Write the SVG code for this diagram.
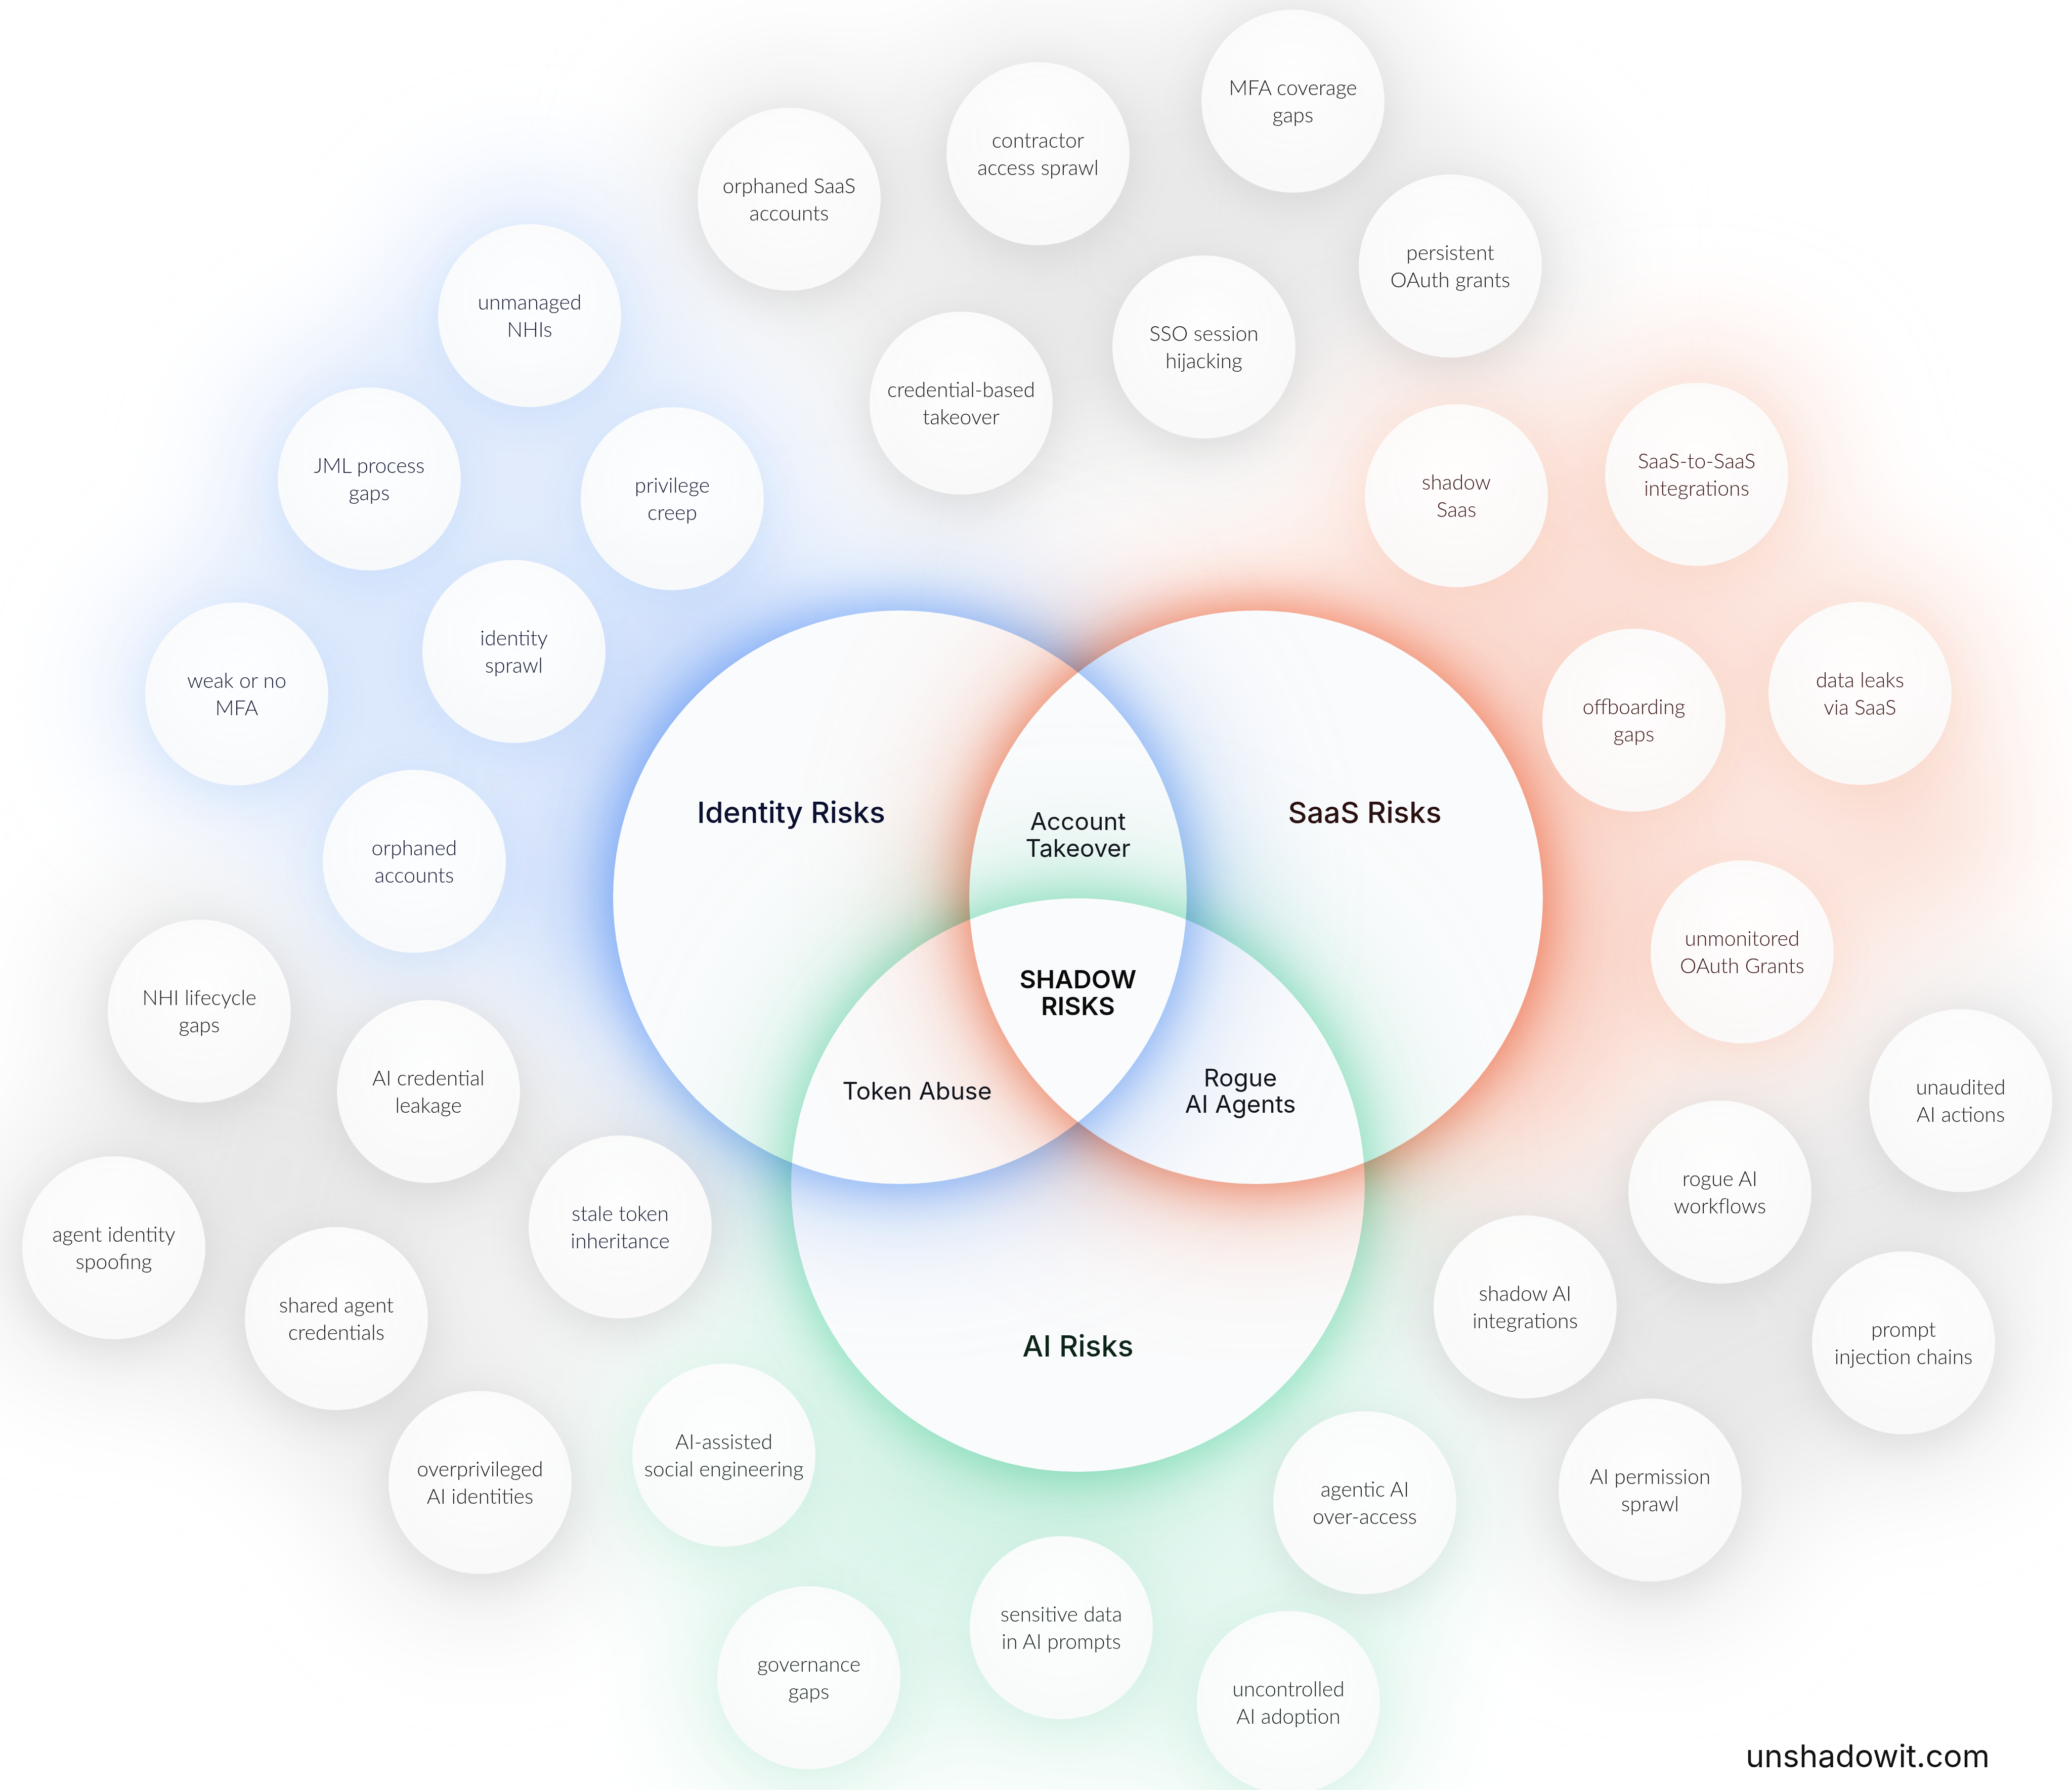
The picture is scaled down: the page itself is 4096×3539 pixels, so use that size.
<svg xmlns="http://www.w3.org/2000/svg" width="4096" height="3539" viewBox="0 0 4096 3539">
  <defs>
    <style>
      .lbl { font-family: Lato, Inter, "Noto Sans", "Liberation Sans", sans-serif; font-size: 41px; font-weight: 300; text-anchor: middle; }
      .c-gray { fill: #1a1a1a; }
      .c-id { fill: #141a32; }
      .c-saas { fill: #381515; }
      .c-ai { fill: #172220; }
      .bub { fill: url(#bubFill); }
      .title { font-family: Inter, "Noto Sans", "Liberation Sans", sans-serif; font-size: 58px; font-weight: 500; text-anchor: middle; }
      .inter { font-family: Inter, "Noto Sans", "Liberation Sans", sans-serif; font-size: 48px; font-weight: 400; text-anchor: middle; fill: #11141c; }
      .core { font-family: Inter, "Noto Sans", "Liberation Sans", sans-serif; font-size: 50px; font-weight: 600; text-anchor: middle; fill: #0a0a0a; }
      .url { font-family: Inter, "Noto Sans", "Liberation Sans", sans-serif; font-size: 62px; font-weight: 400; fill: #121212; }
      .glow { mix-blend-mode: multiply; }
    </style>
    <radialGradient id="bubFill" cx="50%" cy="40%" r="60%">
      <stop offset="0" stop-color="#ffffff" stop-opacity="0.96"/>
      <stop offset="1" stop-color="#fafafa" stop-opacity="0.93"/>
    </radialGradient>
    <filter id="blurTight" filterUnits="userSpaceOnUse" x="0" y="0" width="4096" height="3539">
      <feGaussianBlur stdDeviation="55"/>
    </filter>
    <filter id="blurWide" filterUnits="userSpaceOnUse" x="0" y="0" width="4096" height="3539">
      <feGaussianBlur stdDeviation="150"/>
    </filter>
    <filter id="blurHaze" filterUnits="userSpaceOnUse" x="0" y="0" width="4096" height="3539">
      <feGaussianBlur stdDeviation="120"/>
    </filter>
    <filter id="blurShadow" filterUnits="userSpaceOnUse" x="0" y="0" width="4096" height="3539">
      <feGaussianBlur stdDeviation="40"/>
    </filter>
    <!-- each glow is kept outside its own circle -->
    <mask id="outIdentity" maskUnits="userSpaceOnUse" x="0" y="0" width="4096" height="3539">
      <rect width="4096" height="3539" fill="#fff"/>
      <circle cx="1779" cy="1774" r="567" fill="#000"/>
    </mask>
    <mask id="outSaas" maskUnits="userSpaceOnUse" x="0" y="0" width="4096" height="3539">
      <rect width="4096" height="3539" fill="#fff"/>
      <circle cx="2483" cy="1774" r="567" fill="#000"/>
    </mask>
    <mask id="outAi" maskUnits="userSpaceOnUse" x="0" y="0" width="4096" height="3539">
      <rect width="4096" height="3539" fill="#fff"/>
      <circle cx="2131" cy="2343" r="567" fill="#000"/>
    </mask>
  </defs>

  <rect width="4096" height="3539" fill="#ffffff"/>

  <!-- soft background haze behind the bubble clusters -->
  <g id="haze">
    <g filter="url(#blurHaze)" fill="#e8e8e8">
      <circle cx="1560" cy="394" r="250"/>
      <circle cx="2052" cy="304" r="250"/>
      <circle cx="2556" cy="200" r="250"/>
      <circle cx="2867" cy="526" r="250"/>
      <circle cx="2380" cy="686" r="250"/>
      <circle cx="1900" cy="797" r="240"/>
      <circle cx="2200" cy="520" r="260"/>
      <circle cx="394" cy="1999" r="250"/>
      <circle cx="847" cy="2158" r="250"/>
      <circle cx="225" cy="2467" r="250"/>
      <circle cx="665" cy="2607" r="260"/>
      <circle cx="949" cy="2931" r="250"/>
      <circle cx="1226" cy="2426" r="230"/>
      <circle cx="600" cy="2300" r="250"/>
      <circle cx="3876" cy="2176" r="250"/>
      <circle cx="3400" cy="2357" r="250"/>
      <circle cx="3015" cy="2584" r="250"/>
      <circle cx="3763" cy="2655" r="250"/>
      <circle cx="3262" cy="2946" r="250"/>
      <circle cx="3500" cy="2650" r="250"/>
    </g>
    <g filter="url(#blurHaze)" fill="#dce8fc">
      <circle cx="1047" cy="624" r="250"/>
      <circle cx="730" cy="947" r="260"/>
      <circle cx="1329" cy="986" r="260"/>
      <circle cx="1016" cy="1288" r="260"/>
      <circle cx="468" cy="1372" r="240"/>
      <circle cx="819" cy="1703" r="240"/>
      <circle cx="1330" cy="1380" r="250"/>
      <circle cx="1200" cy="1800" r="200"/>
      <circle cx="700" cy="1300" r="220"/>
    </g>
    <g filter="url(#blurHaze)" fill="#fbdfd5">
      <circle cx="2879" cy="980" r="240"/>
      <circle cx="3354" cy="938" r="250"/>
      <circle cx="3230" cy="1424" r="260"/>
      <circle cx="3677" cy="1371" r="250"/>
      <circle cx="3444" cy="1882" r="240"/>
      <circle cx="3100" cy="1250" r="250"/>
      <circle cx="3150" cy="1900" r="220"/>
      <circle cx="3050" cy="2150" r="170"/>
      <circle cx="3800" cy="1650" r="180"/>
    </g>
    <g filter="url(#blurHaze)" fill="#def5ec">
      <circle cx="1431" cy="2877" r="230"/>
      <circle cx="1599" cy="3317" r="240"/>
      <circle cx="2098" cy="3218" r="260"/>
      <circle cx="2547" cy="3366" r="240"/>
      <circle cx="2698" cy="2971" r="220"/>
      <circle cx="2131" cy="2990" r="260"/>
      <circle cx="1820" cy="3020" r="220"/>
    </g>
  </g>

  <!-- bubble drop shadows -->
  <g id="bubble-shadows" filter="url(#blurShadow)">
    <g fill="#000" opacity="0.07">
      <circle cx="1560" cy="414" r="185"/>
      <circle cx="2052" cy="324" r="185"/>
      <circle cx="2556" cy="220" r="185"/>
      <circle cx="2867" cy="546" r="185"/>
      <circle cx="2380" cy="706" r="185"/>
      <circle cx="1900" cy="817" r="185"/>
      <circle cx="394" cy="2019" r="185"/>
      <circle cx="847" cy="2178" r="185"/>
      <circle cx="225" cy="2487" r="185"/>
      <circle cx="665" cy="2627" r="185"/>
      <circle cx="949" cy="2951" r="185"/>
      <circle cx="1226" cy="2446" r="185"/>
      <circle cx="3876" cy="2196" r="185"/>
      <circle cx="3400" cy="2377" r="185"/>
      <circle cx="3015" cy="2604" r="185"/>
      <circle cx="3763" cy="2675" r="185"/>
      <circle cx="3262" cy="2966" r="185"/>
      <circle cx="2698" cy="2991" r="185"/>
    </g>
    <g fill="#2f6fe0" opacity="0.07">
      <circle cx="1047" cy="644" r="185"/>
      <circle cx="730" cy="967" r="185"/>
      <circle cx="1329" cy="1006" r="185"/>
      <circle cx="1016" cy="1308" r="185"/>
      <circle cx="468" cy="1392" r="185"/>
      <circle cx="819" cy="1723" r="185"/>
    </g>
    <g fill="#e0603a" opacity="0.06">
      <circle cx="2879" cy="1000" r="185"/>
      <circle cx="3354" cy="958" r="185"/>
      <circle cx="3230" cy="1444" r="185"/>
      <circle cx="3677" cy="1391" r="185"/>
      <circle cx="3444" cy="1902" r="185"/>
    </g>
    <g fill="#1f9e6e" opacity="0.06">
      <circle cx="1431" cy="2897" r="185"/>
      <circle cx="1599" cy="3337" r="185"/>
      <circle cx="2098" cy="3238" r="185"/>
      <circle cx="2547" cy="3386" r="185"/>
    </g>
  </g>

  <!-- the three Venn sets -->
  <g id="venn-identity"><circle cx="1779" cy="1774" r="567" fill="#fafbfc"/></g>
  <g id="venn-saas"><circle cx="2483" cy="1774" r="567" fill="#fafbfc"/></g>
  <g id="venn-ai"><circle cx="2131" cy="2343" r="567" fill="#fafbfc"/></g>

  <!-- coloured halos, multiplied over each other and over the neighbouring sets -->
  <g id="venn-glows">
    <g class="glow" mask="url(#outIdentity)">
      <circle cx="1779" cy="1774" r="567" fill="#a8c7f8" filter="url(#blurWide)"/>
      <circle cx="1779" cy="1774" r="567" fill="#7aabf7" filter="url(#blurTight)"/>
    </g>
    <g class="glow" mask="url(#outSaas)">
      <circle cx="2483" cy="1774" r="567" fill="#f6ad95" filter="url(#blurWide)"/>
      <circle cx="2483" cy="1774" r="567" fill="#f07b58" filter="url(#blurTight)"/>
    </g>
    <g class="glow" mask="url(#outAi)">
      <circle cx="2131" cy="2343" r="567" fill="#ade9d2" filter="url(#blurWide)"/>
      <circle cx="2131" cy="2343" r="567" fill="#82dfba" filter="url(#blurTight)"/>
    </g>
  </g>

  <!-- Venn labels -->
  <g id="venn-labels">
    <text class="title" x="1564" y="1627" fill="#0b1030">Identity Risks</text>
    <text class="title" x="2698" y="1627" fill="#2a1010">SaaS Risks</text>
    <text class="title" x="2131" y="2682" fill="#0c2418">AI Risks</text>
    <text class="inter"><tspan x="2131" y="1641">Account</tspan><tspan x="2131" y="1694">Takeover</tspan></text>
    <text class="inter" x="1813" y="2174">Token Abuse</text>
    <text class="inter" fill="#0d1230"><tspan x="2452" y="2148">Rogue</tspan><tspan x="2452" y="2200">AI Agents</tspan></text>
    <text class="core"><tspan x="2131" y="1954">SHADOW</tspan><tspan x="2131" y="2007">RISKS</tspan></text>
  </g>

  <!-- risk bubbles -->
  <g id="bubbles">
    <g id="orphaned-saas-accounts" transform="translate(1560,394)"><circle r="181" class="bub"/><text class="lbl c-gray"><tspan x="0" y="-12">orphaned SaaS</tspan><tspan x="0" y="42">accounts</tspan></text></g>
    <g id="contractor-access-sprawl" transform="translate(2052,304)"><circle r="181" class="bub"/><text class="lbl c-gray"><tspan x="0" y="-12">contractor</tspan><tspan x="0" y="42">access sprawl</tspan></text></g>
    <g id="mfa-coverage-gaps" transform="translate(2556,200)"><circle r="181" class="bub"/><text class="lbl c-gray"><tspan x="0" y="-12">MFA coverage</tspan><tspan x="0" y="42">gaps</tspan></text></g>
    <g id="persistent-oauth-grants" transform="translate(2867,526)"><circle r="181" class="bub"/><text class="lbl c-gray"><tspan x="0" y="-12">persistent</tspan><tspan x="0" y="42">OAuth grants</tspan></text></g>
    <g id="sso-session-hijacking" transform="translate(2380,686)"><circle r="181" class="bub"/><text class="lbl c-gray"><tspan x="0" y="-12">SSO session</tspan><tspan x="0" y="42">hijacking</tspan></text></g>
    <g id="credential-based-takeover" transform="translate(1900,797)"><circle r="181" class="bub"/><text class="lbl c-gray"><tspan x="0" y="-12">credential-based</tspan><tspan x="0" y="42">takeover</tspan></text></g>

    <g id="unmanaged-nhis" transform="translate(1047,624)"><circle r="181" class="bub"/><text class="lbl c-id"><tspan x="0" y="-12">unmanaged</tspan><tspan x="0" y="42">NHIs</tspan></text></g>
    <g id="jml-process-gaps" transform="translate(730,947)"><circle r="181" class="bub"/><text class="lbl c-id"><tspan x="0" y="-12">JML process</tspan><tspan x="0" y="42">gaps</tspan></text></g>
    <g id="privilege-creep" transform="translate(1329,986)"><circle r="181" class="bub"/><text class="lbl c-id"><tspan x="0" y="-12">privilege</tspan><tspan x="0" y="42">creep</tspan></text></g>
    <g id="identity-sprawl" transform="translate(1016,1288)"><circle r="181" class="bub"/><text class="lbl c-id"><tspan x="0" y="-12">identity</tspan><tspan x="0" y="42">sprawl</tspan></text></g>
    <g id="weak-or-no-mfa" transform="translate(468,1372)"><circle r="181" class="bub"/><text class="lbl c-id"><tspan x="0" y="-12">weak or no</tspan><tspan x="0" y="42">MFA</tspan></text></g>
    <g id="orphaned-accounts" transform="translate(819,1703)"><circle r="181" class="bub"/><text class="lbl c-id"><tspan x="0" y="-12">orphaned</tspan><tspan x="0" y="42">accounts</tspan></text></g>

    <g id="shadow-saas" transform="translate(2879,980)"><circle r="181" class="bub"/><text class="lbl c-saas"><tspan x="0" y="-12">shadow</tspan><tspan x="0" y="42">Saas</tspan></text></g>
    <g id="saas-to-saas-integrations" transform="translate(3354,938)"><circle r="181" class="bub"/><text class="lbl c-saas"><tspan x="0" y="-12">SaaS-to-SaaS</tspan><tspan x="0" y="42">integrations</tspan></text></g>
    <g id="offboarding-gaps" transform="translate(3230,1424)"><circle r="181" class="bub"/><text class="lbl c-saas"><tspan x="0" y="-12">offboarding</tspan><tspan x="0" y="42">gaps</tspan></text></g>
    <g id="data-leaks-via-saas" transform="translate(3677,1371)"><circle r="181" class="bub"/><text class="lbl c-saas"><tspan x="0" y="-12">data leaks</tspan><tspan x="0" y="42">via SaaS</tspan></text></g>
    <g id="unmonitored-oauth-grants" transform="translate(3444,1882)"><circle r="181" class="bub"/><text class="lbl c-saas"><tspan x="0" y="-12">unmonitored</tspan><tspan x="0" y="42">OAuth Grants</tspan></text></g>

    <g id="nhi-lifecycle-gaps" transform="translate(394,1999)"><circle r="181" class="bub"/><text class="lbl c-gray"><tspan x="0" y="-12">NHI lifecycle</tspan><tspan x="0" y="42">gaps</tspan></text></g>
    <g id="ai-credential-leakage" transform="translate(847,2158)"><circle r="181" class="bub"/><text class="lbl c-gray"><tspan x="0" y="-12">AI credential</tspan><tspan x="0" y="42">leakage</tspan></text></g>
    <g id="agent-identity-spoofing" transform="translate(225,2467)"><circle r="181" class="bub"/><text class="lbl c-gray"><tspan x="0" y="-12">agent identity</tspan><tspan x="0" y="42">spoofing</tspan></text></g>
    <g id="shared-agent-credentials" transform="translate(665,2607)"><circle r="181" class="bub"/><text class="lbl c-gray"><tspan x="0" y="-12">shared agent</tspan><tspan x="0" y="42">credentials</tspan></text></g>
    <g id="stale-token-inheritance" transform="translate(1226,2426)"><circle r="181" class="bub"/><text class="lbl c-id"><tspan x="0" y="-12">stale token</tspan><tspan x="0" y="42">inheritance</tspan></text></g>
    <g id="overprivileged-ai-identities" transform="translate(949,2931)"><circle r="181" class="bub"/><text class="lbl c-gray"><tspan x="0" y="-12">overprivileged</tspan><tspan x="0" y="42">AI identities</tspan></text></g>

    <g id="unaudited-ai-actions" transform="translate(3876,2176)"><circle r="181" class="bub"/><text class="lbl c-gray"><tspan x="0" y="-12">unaudited</tspan><tspan x="0" y="42">AI actions</tspan></text></g>
    <g id="rogue-ai-workflows" transform="translate(3400,2357)"><circle r="181" class="bub"/><text class="lbl c-gray"><tspan x="0" y="-12">rogue AI</tspan><tspan x="0" y="42">workflows</tspan></text></g>
    <g id="shadow-ai-integrations" transform="translate(3015,2584)"><circle r="181" class="bub"/><text class="lbl c-gray"><tspan x="0" y="-12">shadow AI</tspan><tspan x="0" y="42">integrations</tspan></text></g>
    <g id="prompt-injection-chains" transform="translate(3763,2655)"><circle r="181" class="bub"/><text class="lbl c-gray"><tspan x="0" y="-12">prompt</tspan><tspan x="0" y="42">injection chains</tspan></text></g>
    <g id="ai-permission-sprawl" transform="translate(3262,2946)"><circle r="181" class="bub"/><text class="lbl c-gray"><tspan x="0" y="-12">AI permission</tspan><tspan x="0" y="42">sprawl</tspan></text></g>
    <g id="agentic-ai-over-access" transform="translate(2698,2971)"><circle r="181" class="bub"/><text class="lbl c-gray"><tspan x="0" y="-12">agentic AI</tspan><tspan x="0" y="42">over-access</tspan></text></g>

    <g id="ai-assisted-social-engineering" transform="translate(1431,2877)"><circle r="181" class="bub"/><text class="lbl c-ai"><tspan x="0" y="-12">AI-assisted</tspan><tspan x="0" y="42">social engineering</tspan></text></g>
    <g id="governance-gaps" transform="translate(1599,3317)"><circle r="181" class="bub"/><text class="lbl c-ai"><tspan x="0" y="-12">governance</tspan><tspan x="0" y="42">gaps</tspan></text></g>
    <g id="sensitive-data-in-ai-prompts" transform="translate(2098,3218)"><circle r="181" class="bub"/><text class="lbl c-ai"><tspan x="0" y="-12">sensitive data</tspan><tspan x="0" y="42">in AI prompts</tspan></text></g>
    <g id="uncontrolled-ai-adoption" transform="translate(2547,3366)"><circle r="181" class="bub"/><text class="lbl c-ai"><tspan x="0" y="-12">uncontrolled</tspan><tspan x="0" y="42">AI adoption</tspan></text></g>
  </g>

  <g id="connectors"/>

  <text class="url" x="3451" y="3494">unshadowit.com</text>
</svg>
